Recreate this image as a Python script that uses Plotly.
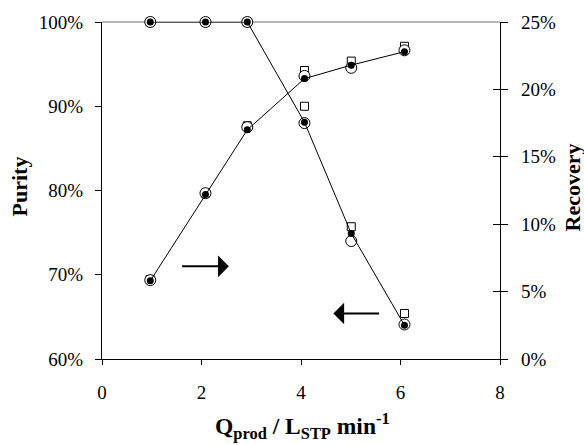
import plotly.graph_objects as go

# Product flow rate (L_STP/min)
q_prod = [0.97, 2.08, 2.92, 4.07, 5.01, 6.08]

# Purity (%), left axis: model line, experiment A (open circles), experiment B (squares)
purity_model = [100, 100, 100, 88.1, 74.9, 64.0]
purity_open = [100, 100, 100, 88.0, 74.0, 64.1]
purity_square = [100, 100, 100, 90.0, 75.7, 65.4]

# Recovery (%), right axis
recovery_model = [5.8, 12.2, 17.0, 20.8, 21.8, 22.8]
recovery_open = [5.85, 12.3, 17.2, 21.0, 21.6, 22.9]
recovery_square = [5.9, 12.3, 17.3, 21.4, 22.1, 23.2]

left_ticks = [60, 70, 80, 90, 100]
right_ticks = [0, 5, 10, 15, 20, 25]
x_ticks = [0, 2, 4, 6, 8]

FONT = "Liberation Serif, Times New Roman, serif"

fig = go.Figure()


def add_group(yvals_sq, yvals_open, yvals_line, axis):
    fig.add_trace(go.Scatter(
        x=q_prod, y=yvals_sq, yaxis=axis, mode="markers", cliponaxis=False,
        marker=dict(symbol="square", size=8, color="white",
                    line=dict(color="black", width=1)),
        showlegend=False))
    fig.add_trace(go.Scatter(
        x=q_prod, y=yvals_open, yaxis=axis, mode="markers", cliponaxis=False,
        marker=dict(symbol="circle", size=11, color="white",
                    line=dict(color="black", width=1)),
        showlegend=False))
    fig.add_trace(go.Scatter(
        x=q_prod, y=yvals_line, yaxis=axis, mode="lines+markers", cliponaxis=False,
        line=dict(color="black", width=1),
        marker=dict(symbol="circle", size=7, color="black"),
        showlegend=False))


add_group(purity_square, purity_open, purity_model, "y")
add_group(recovery_square, recovery_open, recovery_model, "y2")

# invisible trace so the inner-tick overlay axis is drawn
fig.add_trace(go.Scatter(x=[None], y=[None], yaxis="y3", showlegend=False))

tickfont = dict(family=FONT, size=19, color="black")

fig.update_layout(
    width=584, height=445,
    margin=dict(l=101.5, r=84, t=17.5, b=86),
    paper_bgcolor="white", plot_bgcolor="white",
    font=dict(family=FONT, color="black"),
    xaxis=dict(range=[0, 8], tickvals=x_ticks, ticks="outside", ticklen=5,
               tickcolor="black", showline=True, linecolor="black", linewidth=1.2,
               showgrid=False, zeroline=False, tickfont=tickfont,
               ticklabelstandoff=11),
    yaxis=dict(range=[60, 100], tickvals=left_ticks,
               ticktext=[f"{v}%" for v in left_ticks], ticks="outside", ticklen=6,
               tickcolor="black", showline=True, linecolor="black", linewidth=1.2,
               showgrid=False, zeroline=False, tickfont=tickfont,
               ticklabelstandoff=8),
    yaxis2=dict(range=[0, 25], tickvals=right_ticks, overlaying="y", side="right",
                anchor="x",
                ticktext=[f"{v}%" for v in right_ticks], ticks="outside", ticklen=7,
                tickcolor="black", showline=True, linecolor="black", linewidth=1.2,
                showgrid=False, zeroline=False, tickfont=tickfont,
                ticklabelstandoff=9),
    yaxis3=dict(range=[0, 25], tickvals=right_ticks, overlaying="y", side="right",
                anchor="x", showticklabels=False, ticks="inside", ticklen=7,
                tickcolor="black", showline=False, showgrid=False, zeroline=False),
)

# light border along the top of the plot area
fig.add_shape(type="line", xref="paper", yref="paper", x0=0, x1=1, y0=1, y1=1,
              line=dict(color="#a0a0a0", width=1.5), layer="below")

# axis titles
fig.add_annotation(text="<b>Purity</b>", xref="paper", yref="paper",
                   x=-0.245, y=0.512, textangle=-90, showarrow=False,
                   font=dict(family=FONT, size=22, color="black"))
fig.add_annotation(text="<b>Recovery</b>", xref="paper", yref="paper",
                   x=1.218, y=0.51, textangle=-90, showarrow=False,
                   font=dict(family=FONT, size=22, color="black"))
fig.add_annotation(text="<b>Q<sub>prod</sub> / L<sub>STP</sub> min<sup>-1</sup></b>",
                   xref="paper", yref="paper", x=0.503, y=-0.2, yanchor="middle",
                   showarrow=False, font=dict(family=FONT, size=23.5, color="black"))

# arrows pointing to the axis each curve belongs to
RIGHT_ARROW = dict(tail=(1.58, 71.0), tip=(2.55, 71.0))
LEFT_ARROW = dict(tail=(5.6, 65.4), tip=(4.65, 65.4))
for arr in (RIGHT_ARROW, LEFT_ARROW):
    fig.add_annotation(x=arr["tip"][0], y=arr["tip"][1], ax=arr["tail"][0],
                       ay=arr["tail"][1], xref="x", yref="y", axref="x", ayref="y",
                       text="", showarrow=True, arrowhead=1, arrowsize=1.8,
                       arrowwidth=2, arrowcolor="black")

fig.write_html("out.html")
